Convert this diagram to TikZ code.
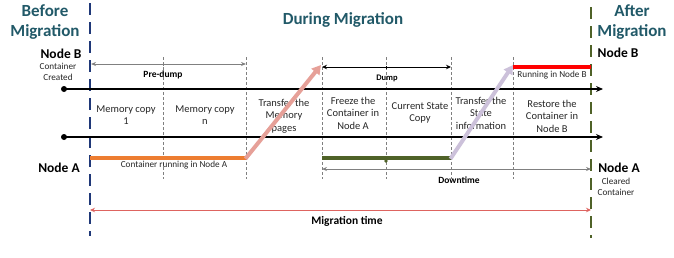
\documentclass[tikz,border=0pt]{standalone}
\usepackage{fontspec}
\setmainfont{Carlito}
\usetikzlibrary{arrows.meta}
\definecolor{titleteal}{RGB}{33,89,104}
\definecolor{navyline}{RGB}{31,56,120}
\definecolor{oliveline}{RGB}{79,98,40}
\definecolor{orangeline}{RGB}{237,125,49}
\definecolor{salmonline}{RGB}{230,160,152}
\definecolor{lavline}{RGB}{204,193,218}
\definecolor{migred}{RGB}{222,100,96}
\definecolor{grayline}{RGB}{128,128,128}
\tikzset{
  titletxt/.style={font=\fontsize{17}{20}\selectfont\bfseries, text=titleteal, align=center, inner sep=0pt},
  nodeB/.style={font=\fontsize{13.5}{15}\selectfont\bfseries, inner sep=0pt},
  nodeAlbl/.style={font=\fontsize{13.5}{15}\selectfont\bfseries, inner sep=0pt},
  smalltxt/.style={font=\fontsize{9.2}{11}\selectfont, align=center, inner sep=0pt, text=black!85},
  bandtxt/.style={font=\fontsize{10.5}{12.5}\selectfont, align=center, inner sep=0pt, text=black!85},
  boldlbl/.style={font=\fontsize{9.5}{11}\selectfont\bfseries, inner sep=0pt},
  phase/.style={dashed, dash pattern=on 12pt off 7pt, line width=2.5pt},
  guide/.style={draw=grayline, dash pattern=on 3pt off 2pt, line width=0.6pt},
  tl/.style={draw=black, line width=1.2pt, -{Stealth[length=7pt,width=6pt]}},
  dotnode/.style={circle, fill=black, minimum size=6pt, inner sep=0pt},
  grayarrow/.style={draw=grayline, line width=1pt, {Stealth[length=5pt,width=4pt]}-{Stealth[length=5pt,width=4pt]}},
  tick/.style={draw=grayline, line width=0.8pt},
  bar/.style={line width=3.5pt},
  fatarrow/.style={line width=4pt, -{Triangle[length=9pt,width=10pt]}, shorten <=-1pt},
}
\begin{document}
\begin{tikzpicture}[x=1pt,y=-1pt]
\useasboundingbox (0,0) rectangle (674,257);

% titles
\node[titletxt] (before) at (45,22) {Before\\Migration};
\node[titletxt] (during) at (343,20) {During Migration};
\node[titletxt] (after) at (632,22) {After\\Migration};

% node labels
\node[nodeB] (nbL) at (61,54) {Node B};
\node[smalltxt] (created) at (58,72) {Container\\Created};
\node[nodeB] (nbR) at (618,53) {Node B};
\node[nodeAlbl] (naL) at (59,168) {Node A};
\node[nodeAlbl] (naR) at (619,168) {Node A};
\node[smalltxt] (cleared) at (616,187) {Cleared\\Container};

% band texts
\node[bandtxt] (mc1) at (126,115) {Memory copy\\1};
\node[bandtxt] (mcn) at (205,115) {Memory copy\\n};
\node[bandtxt] (tmp) at (284,116) {Transfer the\\Memory\\pages};
\node[bandtxt] (frz) at (353,113) {Freeze the\\Container in\\Node A};
\node[bandtxt] (csc) at (420,113) {Current State\\Copy};
\node[bandtxt] (tsi) at (481,113) {Transfer the\\State\\information};
\node[bandtxt] (rst) at (552,116) {Restore the\\Container in\\Node B};

% guide lines
\foreach \n/\x in {g1/163,g2/246,g3/322,g4/386,g5/451,g6/513}{
  \coordinate (\n t) at (\x,57);
  \coordinate (\n b) at (\x,179);
  \draw[guide] (\n t) -- (\n b);
}

% phase separators
\coordinate (navyT) at (90,3);
\coordinate (navyB) at (90,236);
\draw[phase, draw=navyline] (navyT) -- (navyB);
\coordinate (oliveT) at (591,7);
\coordinate (oliveB) at (591,238);
\draw[phase, draw=oliveline] (oliveT) -- (oliveB);

% timelines
\node[dotnode] (s1) at (64,89) {};
\coordinate (e1) at (603,89);
\draw[tl] (s1.center) -- (e1);
\node[dotnode] (s2) at (64,137) {};
\coordinate (e2) at (603,137);
\draw[tl] (s2.center) -- (e2);

% pre-dump
\coordinate (pd1) at (91,64);
\coordinate (pd2) at (246,64);
\coordinate (pdm) at (163,64);
\draw[grayarrow] (pd1) -- (pd2);
\draw[tick] ([yshift=-2pt]pdm) -- ([yshift=1pt]pdm);
\node[boldlbl] (pdl) at (163,75) {Pre-dump};

% dump
\coordinate (d1) at (322,67);
\coordinate (d2) at (451,67);
\coordinate (dm) at (386,67);
\draw[line width=1pt, {Stealth[length=5pt,width=4.5pt]}-{Stealth[length=5pt,width=4.5pt]}] (d1) -- (d2);
\draw[line width=0.8pt] ([yshift=-2pt]dm) -- ([yshift=1pt]dm);
\node[font=\fontsize{8.5}{10}\selectfont\bfseries, inner sep=0pt] (dl) at (387,78) {Dump};

% running in node B
\coordinate (r1) at (513,67);
\coordinate (r2) at (591,67);
\draw[bar, draw=red] (r1) -- (r2);
\node[smalltxt] (rl) at (552,75) {Running in Node B};

% container running in node A
\coordinate (o1) at (90,158);
\coordinate (o2) at (246,158);
\draw[bar, draw=orangeline] (o1) -- (o2);
\node[smalltxt] (ol) at (174,165) {Container running in Node A};

% frozen
\coordinate (f1) at (322,158);
\coordinate (f2) at (451,158);
\coordinate (fm) at (386,158);
\draw[bar, draw=oliveline] (f1) -- (f2);
\fill[oliveline] ([yshift=-3pt]fm) circle (1.8pt);

% transfer arrows
\coordinate (sa2) at (321,65);
\draw[fatarrow, draw=salmonline, fill=salmonline] (o2) -- (sa2);
\coordinate (la2) at (513,65);
\draw[fatarrow, draw=lavline, fill=lavline] (f2) -- (la2);

% downtime
\coordinate (dt1) at (322,169);
\coordinate (dt2) at (591,169);
\draw[grayarrow] (dt1) -- (dt2);
\foreach \x in {386,451,513}{
  \draw[tick] (\x,167) -- (\x,170);
}
\node[font=\fontsize{9.5}{11}\selectfont\bfseries, inner sep=0pt] (dtl) at (459,180) {Downtime};

% migration time
\coordinate (m1) at (90,210);
\coordinate (m2) at (591,210);
\draw[draw=migred, line width=1pt, {Stealth[length=5pt,width=4.5pt]}-{Stealth[length=5pt,width=4.5pt]}] (m1) -- (m2);
\node[font=\fontsize{11.5}{13}\selectfont\bfseries, inner sep=0pt] (ml) at (347,221) {Migration time};
\end{tikzpicture}
\end{document}
